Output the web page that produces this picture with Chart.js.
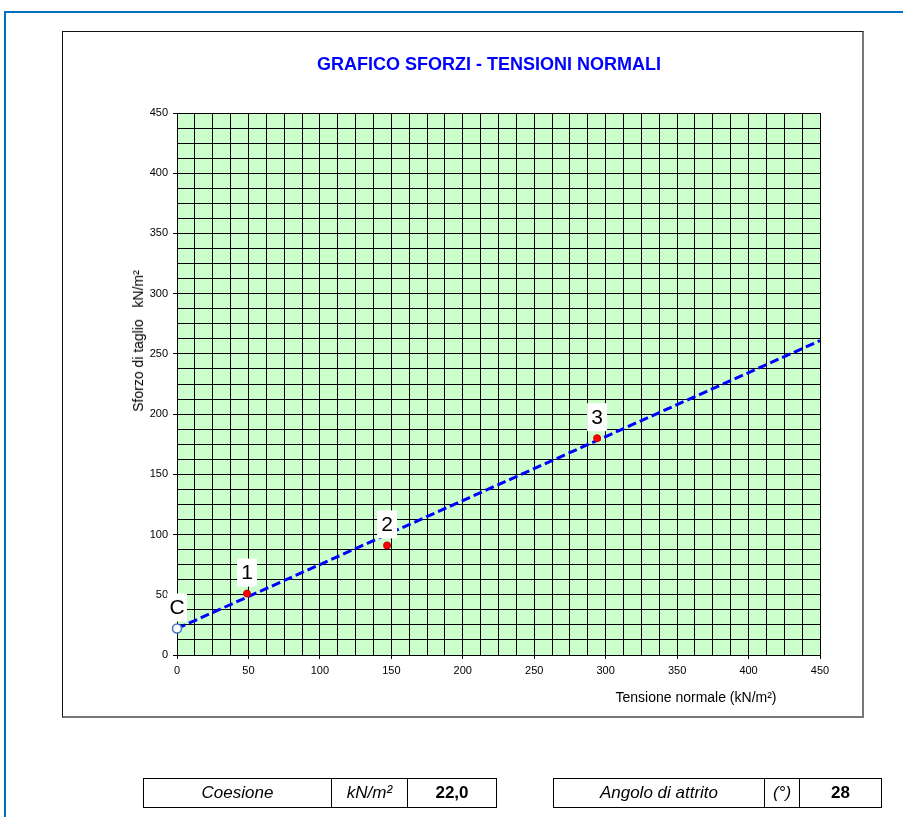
<!DOCTYPE html>
<html>
<head>
<meta charset="utf-8">
<script src="https://cdn.jsdelivr.net/npm/chart.js@4/dist/chart.umd.min.js"></script>
<style>
  body { margin: 0; width: 903px; height: 817px; overflow: hidden; background: #fff;
         font-family: "Liberation Sans", Arial, sans-serif; position: relative; }
  #frame { position: absolute; left: 4px; top: 11px; width: 1000px; height: 1000px;
           border: 2px solid #0070C0; }
  #box { position: absolute; left: 62px; top: 31px; width: 802px; height: 687px; box-sizing: border-box;
         border-left: 1px solid #111; border-top: 1px solid #111;
         border-right: 2px solid #777; border-bottom: 2px solid #777; }
  #chartCanvas { position: absolute; left: 0; top: 0; }
  #title { position: absolute; left: 489px; top: 64px; transform: translate(-50%, -50%);
           font-size: 18px; font-weight: bold; color: #0000FF; white-space: nowrap; }
  .axisTitle { position: absolute; font-size: 14px; color: #000; white-space: nowrap;
               transform: translate(-50%, -50%); }
  #yTitle { left: 138px; top: 341px; transform: translate(-50%, -50%) rotate(-90deg); }
  #xTitle { left: 696px; top: 697px; }
  table.info { position: absolute; top: 778px; height: 30px; border-collapse: collapse; font-size: 17px; }
  table.info td { border: 1px solid #000; text-align: center; padding: 0; }
  table.info td.i { font-style: italic; }
  table.info td.b { font-weight: bold; }
</style>
</head>
<body>
<div id="frame"></div>
<div id="box"></div>
<canvas id="chartCanvas" width="903" height="817"></canvas>
<div id="title">GRAFICO SFORZI - TENSIONI NORMALI</div>
<div class="axisTitle" id="yTitle">Sforzo di taglio&nbsp;&nbsp; kN/m²</div>
<div class="axisTitle" id="xTitle">Tensione normale (kN/m²)</div>

<table class="info" style="left:143px; width:354px;">
  <tr><td class="i" style="width:187px">Coesione</td><td class="i" style="width:75px">kN/m²</td><td class="b">22,0</td></tr>
</table>
<table class="info" style="left:553px; width:329px;">
  <tr><td class="i" style="width:210px">Angolo di attrito</td><td class="i" style="width:34px">(°)</td><td class="b">28</td></tr>
</table>

<script>
// test points
var normalStress = [49, 147, 294];
var shearStress = [51, 91, 180];
var pointNames = ['1', '2', '3'];

// cohesion intercept
var cohesionX = [0];
var cohesionY = [22];
var cohesionName = ['C'];

// failure envelope
var envelopeX = [0, 450];
var envelopeY = [22, 261];

var axisMin = 0;
var axisMax = 450;
var gridStep = 12.5;
var labelStep = 50;

Chart.defaults.font.family = '"Liberation Sans", Arial, sans-serif';
Chart.defaults.color = '#000';

function toPoints(xs, ys) {
    return xs.map(function (x, i) { return { x: x, y: ys[i] }; });
}

// green plot background
var plotBackground = {
    id: 'plotBackground',
    beforeDraw: function (chart) {
        var a = chart.chartArea, ctx = chart.ctx;
        ctx.save();
        ctx.fillStyle = '#CCFFCC';
        ctx.fillRect(a.left, a.top, a.right - a.left, a.bottom - a.top);
        ctx.restore();
    }
};

// boxed labels above points
var pointTags = {
    id: 'pointTags',
    afterDatasetsDraw: function (chart) {
        var ctx = chart.ctx;
        ctx.save();
        ctx.font = '21px "Liberation Sans", Arial, sans-serif';
        ctx.textAlign = 'center';
        ctx.textBaseline = 'middle';
        chart.data.datasets.forEach(function (ds, i) {
            if (!ds.tags) return;
            chart.getDatasetMeta(i).data.forEach(function (el, j) {
                var x = el.x, y = el.y - 21;
                ctx.fillStyle = '#fff';
                ctx.fillRect(x - 10, y - 14, 20, 28);
                ctx.fillStyle = '#000';
                ctx.fillText(ds.tags[j], x, y + 1);
            });
        });
        ctx.restore();
    }
};

function tickMark(c) {
    return c.tick && c.tick.value % labelStep === 0 ? '#000' : 'rgba(0,0,0,0)';
}

function axisOptions(size, isX) {
    return {
        type: 'linear',
        min: axisMin,
        max: axisMax,
        afterFit: function (scale) {
            if (isX) scale.height = size; else scale.width = size;
        },
        ticks: {
            stepSize: gridStep,
            autoSkip: false,
            maxRotation: 0,
            padding: 5,
            font: { size: 11 },
            color: '#000',
            callback: function (v) { return v % labelStep === 0 ? v : ''; }
        },
        grid: { color: '#000', lineWidth: 1, tickLength: 4, tickColor: tickMark },
        border: { color: '#000', width: 1 }
    };
}

var myChart = new Chart('chartCanvas', {
    type: 'scatter',
    data: {
        datasets: [{
            label: 'punti',
            data: toPoints(normalStress, shearStress),
            tags: pointNames,
            pointRadius: 3.5,
            backgroundColor: '#FF0000',
            borderColor: '#CC0000',
            borderWidth: 1
        }, {
            label: 'coesione',
            data: toPoints(cohesionX, cohesionY),
            tags: cohesionName,
            clip: false,
            pointRadius: 4.5,
            backgroundColor: '#ffffff',
            borderColor: '#4472C4',
            borderWidth: 1.5
        }, {
            label: 'inviluppo',
            type: 'line',
            data: toPoints(envelopeX, envelopeY),
            borderColor: '#0000FF',
            borderWidth: 3,
            borderDash: [9, 4],
            pointRadius: 0,
            fill: false,
            order: 5
        }]
    },
    options: {
        responsive: false,
        animation: false,
        layout: { padding: { left: 127, right: 83, top: 113, bottom: 132 } },
        plugins: {
            legend: { display: false },
            tooltip: { enabled: false }
        },
        scales: {
            x: axisOptions(30, true),
            y: axisOptions(50, false)
        }
    },
    plugins: [plotBackground, pointTags]
});
</script>
</body>
</html>
